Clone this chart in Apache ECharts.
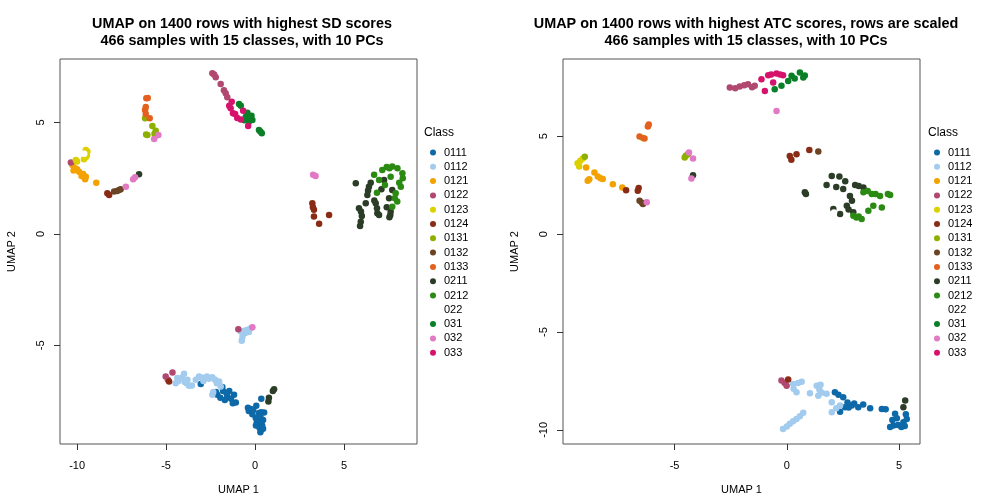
<!DOCTYPE html>
<html>
<head>
<meta charset="utf-8">
<script src="https://cdn.jsdelivr.net/npm/echarts@6/dist/echarts.min.js"></script>
<style>html,body{margin:0;padding:0;background:#fff}#c{width:1008px;height:504px}</style>
</head>
<body>
<div id="c"></div>
<script>
const classes = ['0111','0112','0121','0122','0123','0124','0131','0132','0133','0211','0212','022','031','032','033'];
const colors = ['#0D69A8','#A2CBEE','#F3A200','#B04870','#DCD000','#8A2B15','#8DB000','#6A4424','#E4601F','#2B3D27','#2B8A12','#FFFFFF','#0B7F27','#E07AC4','#D5126C'];
const xTicks1 = [-10,-5,0,5];
const yTicks1 = [-5,0,5];
const xTicks2 = [-5,0,5];
const yTicks2 = [-10,-5,0,5];
const titles = ['UMAP on 1400 rows with highest SD scores\n466 samples with 15 classes, with 10 PCs',
                'UMAP on 1400 rows with highest ATC scores, rows are scaled\n466 samples with 15 classes, with 10 PCs'];

// SD panel
const SD_0111 = [[-3.05,-6.74],[-2.12,-7.22],[-2.20,-7.10],[-1.84,-6.87],[-1.95,-7.35],[-1.56,-7.30],[-1.70,-7.45],[-1.18,-7.22],[-1.08,-7.57],[-1.25,-7.60],[-0.24,-7.86],[-0.40,-7.80],[0.07,-7.71],[0.22,-8.04],[0.51,-8.02],[0.35,-8.00],[0.04,-8.26],[-0.15,-8.10],[0.22,-8.56],[0.10,-8.45],[0.32,-8.79],[0.40,-8.60],[0.25,-8.70],[0.15,-8.30],[0.45,-8.35],[-0.35,-7.95],[-1.45,-7.05],[-1.60,-7.15],[0.35,-7.40],[-1.80,-7.05],[-1.35,-7.40],[0.30,-8.90],[0.05,-8.60],[-0.10,-7.90],[0.30,-8.20],[0.45,-8.75]];
const SD_0112 = [[-4.37,-6.47],[-4.30,-6.60],[-4.46,-6.70],[-3.99,-6.28],[-3.80,-6.55],[-3.95,-6.65],[-3.71,-6.82],[-3.55,-6.80],[-3.33,-6.55],[-3.15,-6.40],[-3.00,-6.45],[-2.77,-6.47],[-2.90,-6.60],[-2.60,-6.50],[-2.40,-6.43],[-2.25,-6.55],[-2.02,-6.62],[-1.93,-6.85],[-2.40,-7.22],[-2.35,-7.10],[-4.10,-6.45],[-3.85,-6.70],[-2.70,-6.40],[-2.15,-6.70],[-0.80,-4.38],[-0.43,-4.30],[-0.71,-4.63],[-0.24,-4.23],[-0.55,-4.45],[-0.35,-4.40],[-0.75,-4.80],[-0.60,-4.35]];
const SD_0121 = [[-10.26,3.09],[-10.11,2.95],[-10.20,2.85],[-9.89,2.79],[-9.66,2.69],[-9.75,2.60],[-9.51,2.57],[-9.55,2.45],[-8.92,2.30],[-10.00,2.90],[-9.60,2.55]];
const SD_0122 = [[-2.40,7.21],[-2.30,7.15],[-2.21,7.03],[-1.93,6.73],[-1.75,6.45],[-1.65,6.31],[-1.56,6.13],[-10.35,3.20],[-5.02,-6.40],[-4.64,-6.22],[-4.90,-6.55],[-0.94,-4.28]];
const SD_0123 = [[-9.51,3.77],[-9.42,3.70],[-9.45,3.54],[-9.61,3.35],[-9.50,3.45],[-10.07,3.32],[-10.00,3.25],[-9.55,3.62]];
const SD_0124 = [[-8.30,1.82],[-8.20,1.75],[3.22,1.38],[3.31,1.08],[3.25,1.20],[3.31,0.78],[3.60,0.45],[4.16,0.85],[-4.83,-6.62]];
const SD_0131 = [[-6.18,5.19],[-5.77,4.84],[-5.58,4.63],[-5.65,4.50],[-6.05,4.44],[-6.12,4.46],[-5.49,4.44],[-5.60,4.40]];
const SD_0132 = [[-7.92,1.90],[-7.64,1.97],[-7.75,1.92],[-7.55,2.00]];
const SD_0133 = [[-6.11,6.09],[-6.03,6.10],[-6.18,5.56],[-6.14,5.70],[-6.14,5.38],[-5.92,5.19]];
const SD_0211 = [[-6.52,2.68],[5.66,2.27],[6.40,2.12],[6.31,1.75],[6.22,1.38],[5.84,1.15],[5.94,0.55],[5.90,0.35],[6.00,0.80],[6.78,1.38],[6.87,0.93],[6.97,0.85],[7.62,1.00],[7.55,0.75],[7.53,1.60],[7.25,2.42],[7.71,1.97],[6.50,2.30],[6.70,1.50],[7.10,2.00],[7.40,1.20],[5.95,1.00],[6.35,1.95],[6.85,1.15],[7.60,0.85],[1.07,-6.97],[1.00,-7.05],[0.75,-7.52],[0.78,-7.35]];
const SD_0212 = [[7.15,2.87],[7.40,3.00],[7.71,3.02],[8.00,2.95],[8.28,2.72],[8.30,2.50],[8.19,2.12],[7.90,1.83],[7.99,1.45],[7.71,1.22],[7.85,1.60],[6.97,2.42],[6.69,2.65],[7.62,2.57],[6.85,1.85],[7.30,2.20],[8.10,2.30],[7.55,2.95]];
const SD_022 = [[-9.60,3.60]];
const SD_031 = [[-0.90,5.83],[-0.80,5.75],[-0.43,5.44],[-0.15,5.11],[-0.34,5.04],[-0.20,5.30],[0.22,4.66],[0.38,4.52],[0.30,4.60],[-0.52,5.26],[-0.60,5.10],[-0.25,5.20]];
const SD_032 = [[-5.67,4.26],[-5.43,4.44],[-7.26,2.12],[-6.74,2.54],[-6.85,2.45],[3.26,2.65],[3.40,2.60],[-0.15,-4.19]];
const SD_033 = [[-1.31,5.93],[-1.37,5.64],[-1.24,5.41],[-0.80,5.14],[-0.67,5.53],[-0.39,4.84],[-1.12,5.38],[-1.45,5.75],[-1.00,5.20]];

// ATC panel
const ATC_0111 = [[2.14,-8.08],[2.30,-8.20],[2.51,-8.33],[2.59,-8.84],[2.70,-8.60],[2.89,-8.76],[3.00,-8.65],[3.18,-8.84],[3.40,-8.70],[3.71,-8.89],[4.23,-8.93],[4.40,-8.95],[4.82,-9.18],[4.75,-9.78],[4.95,-9.75],[5.19,-9.61],[5.34,-9.44],[5.30,-9.20],[4.70,-9.50],[2.37,-9.07],[5.10,-9.85],[4.90,-9.40],[5.25,-9.80],[2.75,-8.85],[4.60,-9.85]];
const ATC_0112 = [[0.28,-7.65],[0.66,-7.54],[0.50,-7.60],[0.43,-8.08],[0.30,-7.90],[1.33,-7.74],[1.50,-7.70],[1.40,-8.25],[1.55,-8.10],[1.77,-8.16],[1.03,-8.13],[2.00,-8.59],[2.00,-9.10],[2.37,-8.76],[2.20,-8.90],[1.45,-7.95],[-0.17,-9.95],[0.00,-9.82],[0.13,-9.69],[0.28,-9.56],[0.43,-9.44],[0.58,-9.30],[0.73,-9.13]];
const ATC_0121 = [[-8.94,3.40],[-8.57,3.15],[-8.42,2.94],[-8.20,2.81],[-8.30,2.85],[-8.87,2.72],[-8.80,2.80],[-7.75,2.55],[-7.33,2.38]];
const ATC_0122 = [[-2.54,7.48],[-2.30,7.45],[-2.10,7.54],[-1.90,7.60],[-1.73,7.65],[-1.43,7.57],[-1.55,7.50],[-0.24,-7.48],[-0.10,-7.60],[-0.01,-7.74]];
const ATC_0123 = [[-9.32,3.62],[-9.25,3.45],[-9.20,3.75],[-9.09,3.86]];
const ATC_0124 = [[-7.16,2.24],[-6.64,2.21],[-6.60,2.35],[0.13,3.99],[0.20,3.80],[0.43,4.08],[1.00,4.29],[0.06,-7.43]];
const ATC_0131 = [[-6.41,4.91],[-4.55,3.91],[-4.41,4.08],[-4.50,4.00],[-9.00,3.95]];
const ATC_0132 = [[-6.56,1.70],[-6.45,1.60],[-6.41,1.53],[1.40,4.22]];
const ATC_0133 = [[-6.19,5.49],[-6.15,5.60],[-6.56,4.98],[-6.34,4.88]];
const ATC_0211 = [[2.00,2.97],[2.34,2.94],[1.77,2.50],[2.51,2.30],[3.04,2.50],[2.81,1.95],[0.80,2.13],[0.85,2.05],[2.67,1.44],[2.37,1.02],[2.96,1.11],[3.41,2.38],[2.07,1.28],[2.60,2.70],[2.20,2.40],[2.90,1.70],[3.20,2.45],[2.75,1.25],[-4.18,3.01],[5.27,-8.50],[5.19,-8.84]];
const ATC_0212 = [[3.41,2.13],[3.78,2.04],[4.15,1.95],[4.60,1.99],[4.50,2.05],[3.85,1.44],[4.23,1.36],[3.63,1.19],[2.96,0.93],[3.10,0.85],[3.33,0.77],[3.60,2.20],[3.95,2.05],[3.20,0.90]];
const ATC_022 = [[2.10,1.10]];
const ATC_031 = [[-0.54,7.40],[-0.24,7.57],[0.06,7.82],[0.21,8.08],[0.58,8.25],[0.73,8.00],[0.80,8.10],[0.35,7.95]];
const ATC_032 = [[-0.46,6.29],[-4.36,4.17],[-4.18,3.86],[-4.25,2.84],[-6.24,1.62]];
const ATC_033 = [[-1.13,7.91],[-0.83,8.11],[-0.46,8.20],[-0.17,8.11],[-0.30,8.15],[-0.98,7.31],[-0.61,7.74],[-0.70,8.15]];

const sdData = [SD_0111,SD_0112,SD_0121,SD_0122,SD_0123,SD_0124,SD_0131,SD_0132,SD_0133,SD_0211,SD_0212,SD_022,SD_031,SD_032,SD_033];
const atcData = [ATC_0111,ATC_0112,ATC_0121,ATC_0122,ATC_0123,ATC_0124,ATC_0131,ATC_0132,ATC_0133,ATC_0211,ATC_0212,ATC_022,ATC_031,ATC_032,ATC_033];

const FONT = '"Liberation Sans", Arial, sans-serif';
const chart = echarts.init(document.getElementById('c'), null, {renderer:'canvas'});

function xAxis(idx, min, max, ticks){
  return {gridIndex: idx, type:'value', position:'bottom', min:min, max:max, splitLine:{show:false},
    axisLine:{show:false, onZero:false},
    axisTick:{show:true, customValues:ticks, length:6, lineStyle:{color:'#333'}},
    axisLabel:{customValues:ticks, fontSize:11, color:'#000', margin:16, fontFamily:FONT},
    name:'UMAP 1', nameLocation:'middle', nameGap:40, nameTextStyle:{fontSize:11, color:'#000', fontFamily:FONT}};
}
function yAxis(idx, min, max, ticks){
  return {gridIndex: idx, type:'value', position:'left', min:min, max:max, splitLine:{show:false},
    axisLine:{show:false, onZero:false},
    axisTick:{show:true, customValues:ticks, length:6, lineStyle:{color:'#333'}},
    axisLabel:{customValues:ticks, fontSize:11, color:'#000', margin:14, rotate:90, fontFamily:FONT},
    name:'UMAP 2', nameLocation:'middle', nameGap:43, nameTextStyle:{fontSize:11, color:'#000', fontFamily:FONT}};
}

const series = [];
[sdData, atcData].forEach((panel, p) => {
  panel.forEach((d, i) => {
    series.push({type:'scatter', name:classes[i], xAxisIndex:p, yAxisIndex:p, data:d,
      symbol:'circle', symbolSize:6.5, itemStyle:{color:colors[i], opacity:1},
      emphasis:{disabled:true}, silent:true});
  });
});

function legend(left){
  return {orient:'vertical', left:left, top:142, data:classes, icon:'circle',
    itemWidth:6, itemHeight:6, itemGap:3.3, selectedMode:false,
    textStyle:{fontSize:11, color:'#000', fontFamily:FONT, padding:[0,0,0,3]}};
}

chart.setOption({
  animation:false,
  backgroundColor:'#fff',
  title:[
    {text:titles[0], left:237, top:11, textAlign:'center', textStyle:{fontSize:14.4, fontWeight:'bold', lineHeight:17, color:'#000', fontFamily:FONT}},
    {text:titles[1], left:741, top:11, textAlign:'center', textStyle:{fontSize:14.4, fontWeight:'bold', lineHeight:17, color:'#000', fontFamily:FONT}}
  ],
  grid:[
    {left:60, top:59, width:357, height:385, show:true, borderColor:'#555', borderWidth:1, backgroundColor:'transparent'},
    {left:563, top:59, width:357, height:385, show:true, borderColor:'#555', borderWidth:1, backgroundColor:'transparent'}
  ],
  xAxis:[xAxis(0,-10.96,9.10,xTicks1), xAxis(1,-9.97,5.93,xTicks2)],
  yAxis:[yAxis(0,-9.43,7.85,yTicks1), yAxis(1,-10.72,8.94,yTicks2)],
  legend:[legend(425), legend(929)],
  graphic:[
    {type:'text', left:424, top:127, style:{text:'Class', fontSize:12, fill:'#000', fontFamily:FONT}},
    {type:'text', left:928, top:127, style:{text:'Class', fontSize:12, fill:'#000', fontFamily:FONT}}
  ],
  series:series
});
</script>
</body>
</html>
